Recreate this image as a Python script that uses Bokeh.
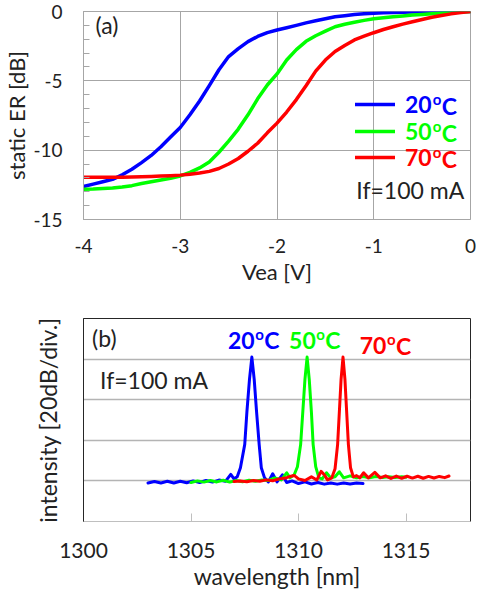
from bokeh.plotting import figure
from bokeh.layouts import column
from bokeh.models import Range1d, FixedTicker, Label, Legend, LegendItem
from bokeh.embed import file_html
from bokeh.resources import INLINE

FONT = "Lato"
TXT = "#222222"

# ---------------- panel (a) data ----------------
vea = [-4.0, -3.9, -3.8, -3.7, -3.6, -3.5, -3.4, -3.3, -3.2, -3.1,
       -3.0, -2.9, -2.8, -2.7, -2.6, -2.5, -2.4, -2.3, -2.2, -2.1,
       -2.0, -1.9, -1.8, -1.7, -1.6, -1.5, -1.4, -1.3, -1.2, -1.1,
       -1.0, -0.9, -0.8, -0.7, -0.6, -0.5, -0.4, -0.3, -0.2, -0.1, 0.0]
er_20 = [-12.62, -12.45, -12.28, -12.10, -11.78, -11.38, -10.90, -10.38, -9.75, -9.05,
         -8.37, -7.45, -6.45, -5.35, -4.20, -3.25, -2.68, -2.17, -1.80, -1.52,
         -1.33, -1.17, -1.00, -0.82, -0.67, -0.52, -0.38, -0.30, -0.22, -0.16,
         -0.12, -0.09, -0.07, -0.055, -0.04, -0.03, -0.02, -0.015, -0.01, -0.005, 0.0]
er_50 = [-12.81, -12.80, -12.77, -12.73, -12.66, -12.56, -12.40, -12.28, -12.15, -12.02,
         -11.86, -11.60, -11.28, -10.85, -10.15, -9.35, -8.48, -7.45, -6.30, -5.30,
         -4.50, -3.50, -2.75, -2.15, -1.75, -1.42, -1.10, -0.92, -0.78, -0.64,
         -0.52, -0.45, -0.38, -0.32, -0.26, -0.21, -0.16, -0.11, -0.07, -0.03, 0.0]
er_70 = [-11.96, -11.96, -11.96, -11.96, -11.95, -11.94, -11.92, -11.90, -11.87, -11.84,
         -11.80, -11.74, -11.65, -11.53, -11.32, -11.00, -10.60, -10.08, -9.50, -8.75,
         -8.05, -7.25, -6.35, -5.35, -4.30, -3.50, -2.88, -2.45, -2.05, -1.78,
         -1.53, -1.30, -1.10, -0.91, -0.74, -0.58, -0.42, -0.29, -0.17, -0.08, 0.0]

vea_ticks = [-4, -3, -2, -1, 0]
er_ticks = [-15, -10, -5, 0]

temp_nums = ["20", "50", "70"]
colors = ["#0000FF", "#00FF00", "#FF0000"]

# ---------------- panel (b) data ----------------
wl_20 = [1303.0, 1303.3, 1303.6, 1303.9, 1304.2, 1304.5, 1304.8, 1305.1, 1305.4, 1305.7,
         1306.0, 1306.3, 1306.6, 1306.85, 1307.0, 1307.15, 1307.3, 1307.5, 1307.6, 1307.72,
         1307.83, 1307.94, 1308.05, 1308.17, 1308.27, 1308.42, 1308.6, 1308.8, 1309.0, 1309.25,
         1309.45, 1309.7, 1310.0, 1310.3, 1310.6, 1310.9, 1311.2, 1311.5, 1311.8, 1312.1,
         1312.4, 1312.7, 1313.0]
in_20 = [-81.0, -80.3, -81.0, -80.2, -81.0, -80.2, -80.9, -80.0, -80.8, -79.8,
         -80.6, -79.6, -80.2, -76.8, -79.0, -78.0, -73.5, -62.0, -46.0, -30.0,
         -19.0, -30.0, -46.0, -62.0, -73.5, -78.5, -80.5, -76.5, -80.5, -77.0,
         -80.8, -80.0, -81.3, -80.5, -81.5, -80.8, -81.6, -81.0, -81.6, -81.0,
         -81.5, -81.0, -81.3]

wl_50 = [1305.0, 1305.3, 1305.6, 1305.9, 1306.2, 1306.5, 1306.8, 1307.1, 1307.4, 1307.7,
         1308.0, 1308.3, 1308.6, 1308.9, 1309.2, 1309.45, 1309.6, 1309.8, 1309.95, 1310.1,
         1310.2, 1310.3, 1310.4, 1310.5, 1310.6, 1310.68, 1310.8, 1310.95, 1311.1, 1311.3,
         1311.5, 1311.7, 1311.9, 1312.1, 1312.4, 1312.7, 1313.0, 1313.3, 1313.6, 1313.9,
         1314.2, 1314.5, 1314.8, 1315.0]
in_50 = [-80.8, -80.0, -80.6, -79.8, -80.5, -79.7, -80.6, -79.8, -80.4, -79.7,
         -80.2, -79.5, -79.8, -78.5, -79.5, -76.0, -78.5, -77.0, -73.0, -62.0,
         -46.0, -30.0, -19.0, -30.0, -46.0, -62.0, -73.0, -78.5, -79.0, -76.0,
         -78.5, -78.0, -75.5, -78.5, -77.5, -78.5, -77.8, -78.4, -77.8, -78.3,
         -77.9, -78.3, -78.0, -78.2]

wl_70 = [1307.0, 1307.3, 1307.6, 1307.9, 1308.2, 1308.5, 1308.8, 1309.1, 1309.4, 1309.6,
         1309.8, 1310.0, 1310.3, 1310.6, 1310.85, 1311.05, 1311.2, 1311.35, 1311.55, 1311.7,
         1311.82, 1311.9, 1311.98, 1312.07, 1312.16, 1312.24, 1312.32, 1312.42, 1312.55, 1312.7,
         1312.85, 1313.03, 1313.25, 1313.55, 1313.8, 1314.05, 1314.3, 1314.55, 1314.8, 1315.05,
         1315.3, 1315.55, 1315.8, 1316.05, 1316.3, 1316.55, 1316.8, 1317.0]
in_70 = [-80.3, -80.0, -80.4, -79.8, -80.2, -79.5, -79.9, -79.0, -78.6, -77.8,
         -77.3, -79.0, -79.8, -78.0, -79.6, -75.3, -77.0, -79.5, -78.5, -74.0,
         -62.0, -46.0, -30.0, -19.0, -30.0, -46.0, -62.0, -73.5, -78.0, -77.4,
         -78.5, -76.0, -78.5, -75.8, -78.5, -77.5, -78.8, -77.6, -78.7, -77.7,
         -78.6, -77.7, -78.7, -77.8, -78.6, -77.8, -78.4, -77.6]

wl_ticks = [1300, 1305, 1310, 1315]
grid_db = [-80, -60, -40, -20]

SUP = 15  # size of the superscript "o"


def sup_and_c(p, w, kw, size=23):
    """superscript o and C drawn after a number of width w"""
    p.add_layout(Label(text="o", text_font_size=f"{SUP}px",
                       x_offset=w + 0.5, y_offset=6.5, **kw))
    p.add_layout(Label(text="C", text_font_size=f"{size}px",
                       x_offset=w + 9.5, **kw))


# ---------------- figure (a) ----------------
pa = figure(width=476, height=290, x_range=Range1d(-4, 0), y_range=Range1d(-15, 0),
            output_backend="svg", toolbar_location=None,
            min_border_left=77, min_border_right=6, min_border_top=11, min_border_bottom=71)
pa.outline_line_color = "#A6A6A6"

pa.xaxis.ticker = FixedTicker(ticks=vea_ticks)
pa.yaxis.ticker = FixedTicker(ticks=er_ticks, minor_ticks=list(range(-15, 1)))
pa.xaxis.major_label_overrides = {t: str(t) for t in vea_ticks}
pa.yaxis.major_label_overrides = {t: str(t) for t in er_ticks}
for ax in (pa.xaxis, pa.yaxis):
    ax.axis_line_color = "#A6A6A6"
    ax.major_tick_out = 0
    ax.major_tick_in = 0
    ax.minor_tick_out = 0
    ax.major_label_text_font = FONT
    ax.major_label_text_font_size = "19px"
    ax.major_label_text_color = TXT
    ax.axis_label_text_font = FONT
    ax.axis_label_text_font_size = "22px"
    ax.axis_label_text_font_style = "normal"
    ax.axis_label_text_color = TXT
pa.xaxis.minor_tick_in = 0
pa.yaxis.minor_tick_in = 6
pa.yaxis.major_tick_in = 6
pa.yaxis.major_tick_line_color = "#A6A6A6"
pa.yaxis.minor_tick_line_color = "#A6A6A6"
pa.xaxis.major_label_standoff = 19
pa.yaxis.major_label_standoff = 21
pa.xaxis.axis_label_standoff = 2
pa.yaxis.axis_label_standoff = 0
pa.xaxis.axis_label = "Vea [V]"
pa.yaxis.axis_label = "static ER [dB]"
pa.grid.grid_line_color = "#A6A6A6"
pa.grid.grid_line_width = 1

rs = []
for ys, c in zip([er_20, er_50, er_70], colors):
    rs.append(pa.line(vea, ys, line_color=c, line_width=3.5, line_join="round", line_cap="round"))

LEG_X = 272
leg_y = [101, 74, 48]
for r, t, c, yoff in zip(rs, temp_nums, colors, leg_y):
    leg = Legend(items=[LegendItem(label=t, renderers=[r])], location=(LEG_X, yoff),
                 padding=0, margin=0, spacing=0, glyph_width=40, glyph_height=26,
                 label_height=26, label_standoff=10,
                 label_text_font=FONT, label_text_font_style="bold",
                 label_text_font_size="23px", label_text_color=c,
                 border_line_alpha=0, background_fill_alpha=0)
    pa.add_layout(leg)
    w = 0.58 * 23 * len(t)
    kw = dict(x=LEG_X + 40 + 10, y=yoff + 13, x_units="screen", y_units="screen",
              text_font=FONT, text_font_style="bold", text_color=c, text_baseline="middle")
    sup_and_c(pa, w, kw)

pa.add_layout(Label(x=-3.875, y=-1.0, text="(a)", text_font=FONT, text_font_size="23px",
                    text_color=TXT, text_baseline="middle"))
pa.add_layout(Label(x=-1.18, y=-12.9, text="If=100 mA", text_font=FONT, text_font_size="23px",
                    text_color=TXT, text_baseline="middle"))

# ---------------- figure (b) ----------------
pb = figure(width=476, height=305, x_range=Range1d(1300, 1318), y_range=Range1d(-100, 0),
            output_backend="svg", toolbar_location=None,
            min_border_left=75, min_border_right=2, min_border_top=28, min_border_bottom=74)
pb.outline_line_color = "#262626"
pb.xaxis.ticker = FixedTicker(ticks=wl_ticks)
pb.yaxis.ticker = FixedTicker(ticks=[])
pb.xgrid.visible = False
pb.ygrid.ticker = FixedTicker(ticks=grid_db)
pb.ygrid.grid_line_color = "#B4B4B4"
pb.ygrid.grid_line_width = 1.5
for ax in (pb.xaxis, pb.yaxis):
    ax.major_tick_out = 0
    ax.minor_tick_out = 0
    ax.minor_tick_in = 0
    ax.major_label_text_font = FONT
    ax.major_label_text_font_size = "21px"
    ax.major_label_text_color = TXT
    ax.axis_label_text_font = FONT
    ax.axis_label_text_font_size = "23px"
    ax.axis_label_text_font_style = "normal"
    ax.axis_label_text_color = TXT
pb.yaxis.major_label_text_font_size = "1px"
pb.yaxis.major_label_standoff = 0
pb.xaxis.axis_line_color = "#BFBFBF"
pb.yaxis.axis_line_color = "#262626"
pb.xaxis.major_tick_in = 8
pb.yaxis.major_tick_in = 0
pb.xaxis.major_tick_line_color = "#BFBFBF"
pb.xaxis.major_label_standoff = 21
pb.xaxis.axis_label_standoff = 1
pb.yaxis.axis_label_standoff = 22
pb.xaxis.axis_label = "wavelength [nm]"
pb.yaxis.axis_label = "intensity [20dB/div.]"

for xs, ys, c in zip([wl_20, wl_50, wl_70], [in_20, in_50, in_70], colors):
    pb.line(xs, ys, line_color=c, line_width=3, line_join="round", line_cap="round")

for x, y, t, c in zip([1306.72, 1309.56, 1312.85], [-10.6, -10.6, -13.5], temp_nums, colors):
    kw = dict(x=x, y=y, text_font=FONT, text_font_style="bold", text_color=c,
              text_baseline="middle")
    pb.add_layout(Label(text=t, text_font_size="23px", **kw))
    sup_and_c(pb, 0.58 * 23 * len(t), kw)
pb.add_layout(Label(x=1300.4, y=-9.4, text="(b)", text_font=FONT, text_font_size="23px",
                    text_color=TXT, text_baseline="middle"))
pb.add_layout(Label(x=1300.77, y=-30.5, text="If=100 mA", text_font=FONT, text_font_size="23px",
                    text_color=TXT, text_baseline="middle"))

layout = column(pa, pb)
open("out.html", "w").write(file_html(layout, INLINE))
